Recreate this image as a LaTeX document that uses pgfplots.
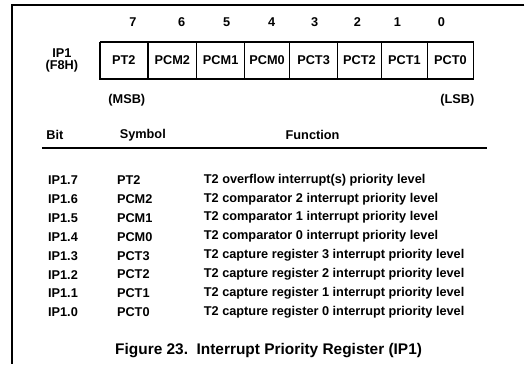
\documentclass[border=0pt]{standalone}
\usepackage{pgfplots}
\pgfplotsset{compat=1.18}
\usepackage{fontspec}
\setmainfont{Liberation Sans}
\begin{document}
\begin{tikzpicture}[every node/.style={font=\bfseries\fontsize{12.8}{14}\selectfont}]
\begin{axis}[width=525bp, height=365bp, scale only axis,
  xmin=0, xmax=525, ymin=0, ymax=365, y dir=reverse,
  hide axis, clip=false]
\path (axis cs:0,0) rectangle (axis cs:525,365);
% frame
\addplot[black, line width=1.5pt] coordinates {(525,5) (12,5) (12,365)};
% register boxes
\addplot[black, line width=1.5pt] coordinates {(100,42) (474,42) (474,79) (100,79) (100,42)};
\addplot[black, line width=1.5pt] coordinates {(148,42) (148,79)};
\addplot[black, line width=1.5pt] coordinates {(197,42) (197,79)};
\addplot[black, line width=1.5pt] coordinates {(245,42) (245,79)};
\addplot[black, line width=1.5pt] coordinates {(290,42) (290,79)};
\addplot[black, line width=1.5pt] coordinates {(338,42) (338,79)};
\addplot[black, line width=1.5pt] coordinates {(382,42) (382,79)};
\addplot[black, line width=1.5pt] coordinates {(428,42) (428,79)};
% header rule
\addplot[black, line width=1.8pt] coordinates {(42,148) (488,148)};
% bit numbers
\node at (axis cs:133,22) {7};
\node at (axis cs:182,22) {6};
\node at (axis cs:227,22) {5};
\node at (axis cs:272,22) {4};
\node at (axis cs:315,22) {3};
\node at (axis cs:358,22) {2};
\node at (axis cs:398,22) {1};
\node at (axis cs:442,22) {0};
% cell labels
\node at (axis cs:124,60.5) {PT2};
\node at (axis cs:172.5,60.5) {PCM2};
\node at (axis cs:221,60.5) {PCM1};
\node at (axis cs:267.5,60.5) {PCM0};
\node at (axis cs:314,60.5) {PCT3};
\node at (axis cs:360,60.5) {PCT2};
\node at (axis cs:405,60.5) {PCT1};
\node at (axis cs:451,60.5) {PCT0};
\node at (axis cs:62,53) {IP1};
\node at (axis cs:62,66) {(F8H)};
\node at (axis cs:127,100) {(MSB)};
\node at (axis cs:458,100) {(LSB)};
% table header
\node at (axis cs:55,135) {Bit};
\node at (axis cs:143,135) {Symbol};
\node at (axis cs:313,135) {Function};
% rows
\node[anchor=west, inner sep=0pt] at (axis cs:48,180) {IP1.7};
\node[anchor=west, inner sep=0pt] at (axis cs:48,199) {IP1.6};
\node[anchor=west, inner sep=0pt] at (axis cs:48,218) {IP1.5};
\node[anchor=west, inner sep=0pt] at (axis cs:48,237) {IP1.4};
\node[anchor=west, inner sep=0pt] at (axis cs:48,256) {IP1.3};
\node[anchor=west, inner sep=0pt] at (axis cs:48,275) {IP1.2};
\node[anchor=west, inner sep=0pt] at (axis cs:48,294) {IP1.1};
\node[anchor=west, inner sep=0pt] at (axis cs:48,313) {IP1.0};
\node[anchor=west, inner sep=0pt] at (axis cs:117,180) {PT2};
\node[anchor=west, inner sep=0pt] at (axis cs:117,199) {PCM2};
\node[anchor=west, inner sep=0pt] at (axis cs:117,218) {PCM1};
\node[anchor=west, inner sep=0pt] at (axis cs:117,237) {PCM0};
\node[anchor=west, inner sep=0pt] at (axis cs:117,256) {PCT3};
\node[anchor=west, inner sep=0pt] at (axis cs:117,275) {PCT2};
\node[anchor=west, inner sep=0pt] at (axis cs:117,294) {PCT1};
\node[anchor=west, inner sep=0pt] at (axis cs:117,313) {PCT0};
\node[anchor=west, inner sep=0pt] at (axis cs:204,180) {T2 overflow interrupt(s) priority level};
\node[anchor=west, inner sep=0pt] at (axis cs:204,199) {T2 comparator 2 interrupt priority level};
\node[anchor=west, inner sep=0pt] at (axis cs:204,218) {T2 comparator 1 interrupt priority level};
\node[anchor=west, inner sep=0pt] at (axis cs:204,237) {T2 comparator 0 interrupt priority level};
\node[anchor=west, inner sep=0pt] at (axis cs:204,256) {T2 capture register 3 interrupt priority level};
\node[anchor=west, inner sep=0pt] at (axis cs:204,275) {T2 capture register 2 interrupt priority level};
\node[anchor=west, inner sep=0pt] at (axis cs:204,294) {T2 capture register 1 interrupt priority level};
\node[anchor=west, inner sep=0pt] at (axis cs:204,313) {T2 capture register 0 interrupt priority level};
% caption
\node[font=\bfseries\fontsize{15.5}{17}\selectfont] at (axis cs:269,351) {Figure 23.\ \ Interrupt Priority Register (IP1)};
\end{axis}
\end{tikzpicture}
\end{document}
